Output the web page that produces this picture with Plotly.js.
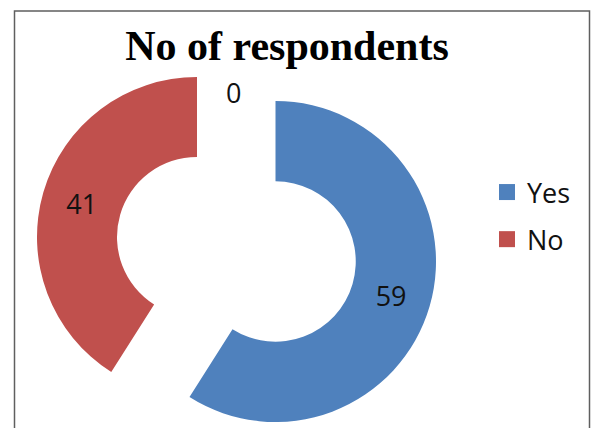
<!DOCTYPE html>
<html>
<head>
<meta charset="utf-8">
<script src="https://cdn.plot.ly/plotly-3.0.1.min.js"></script>
<style>html,body{margin:0;padding:0;background:#fff;overflow:hidden}</style>
</head>
<body>
<div id="chart" style="width:593px;height:428px"></div>
<script>
// ---- data ----
const chartTitle = 'No of respondents';
const categories = ['Yes', 'No'];
const respondents = [59, 41];
const blankCategoryValue = 0;
const sliceColors = ['#4F81BD', '#C0504D'];

// ---- geometry helpers ----
const W = 593, H = 428;
function dom(cx, cy, R) {
  return {x: [(cx - R) / W, (cx + R) / W], y: [1 - (cy + R) / H, 1 - (cy - R) / H]};
}
const clear = 'rgba(0,0,0,0)';

// each exploded slice is drawn as its own ring, the other slice left transparent
function ring(keep, domain) {
  return {
    type: 'pie',
    labels: categories,
    values: respondents,
    sort: false,
    direction: 'clockwise',
    rotation: 0,
    hole: 0.5,
    domain: domain,
    marker: {colors: sliceColors.map((c, i) => i === keep ? c : clear), line: {width: 0}},
    text: respondents.map((v, i) => i === keep ? String(v) : ''),
    textinfo: 'text',
    textposition: 'inside',
    insidetextorientation: 'horizontal',
    textfont: {family: 'Open Sans, sans-serif', size: 27, color: '#111'},
    showlegend: false,
    hoverinfo: 'label+value'
  };
}

const traces = [
  ring(0, dom(275.5, 261.5, 160.5)),
  ring(1, dom(197, 237, 160))
];
categories.forEach((c, i) => {
  traces.push({
    type: 'scatter', x: [null], y: [null], mode: 'markers', name: c,
    legendgroup: 'g' + i,
    marker: {symbol: 'square', size: 16, color: sliceColors[i]},
    hoverinfo: 'skip'
  });
});

const layout = {
  width: W, height: H,
  margin: {l: 0, r: 0, t: 0, b: 0},
  paper_bgcolor: '#fff', plot_bgcolor: 'rgba(0,0,0,0)',
  title: {
    text: chartTitle,
    font: {family: 'Liberation Serif, Times New Roman, serif', size: 42, color: '#000', weight: 'bold'},
    x: 287 / W, xanchor: 'center', xref: 'container',
    y: 1 - 45 / H, yanchor: 'middle', yref: 'container'
  },
  xaxis: {visible: false}, yaxis: {visible: false},
  showlegend: true,
  legend: {
    x: 487 / W, xanchor: 'left', y: 1 - 168 / H, yanchor: 'top',
    font: {family: 'Open Sans, sans-serif', size: 27, color: '#111'},
    traceorder: 'grouped', tracegroupgap: 9,
    bgcolor: 'rgba(0,0,0,0)', itemwidth: 30
  },
  annotations: [{
    text: String(blankCategoryValue), showarrow: false,
    xref: 'paper', yref: 'paper', x: 233 / W, y: 1 - 92 / H,
    xanchor: 'center', yanchor: 'middle',
    font: {family: 'Open Sans, sans-serif', size: 27, color: '#111'}
  }],
  shapes: [{
    type: 'rect', xref: 'paper', yref: 'paper',
    x0: 14.5 / W, x1: 589.5 / W, y0: -0.1, y1: 1 - 11 / H,
    line: {color: '#5f5f5f', width: 1.5}, fillcolor: 'rgba(0,0,0,0)'
  }]
};

Plotly.newPlot('chart', traces, layout, {displayModeBar: false, staticPlot: true});
</script>
</body>
</html>
